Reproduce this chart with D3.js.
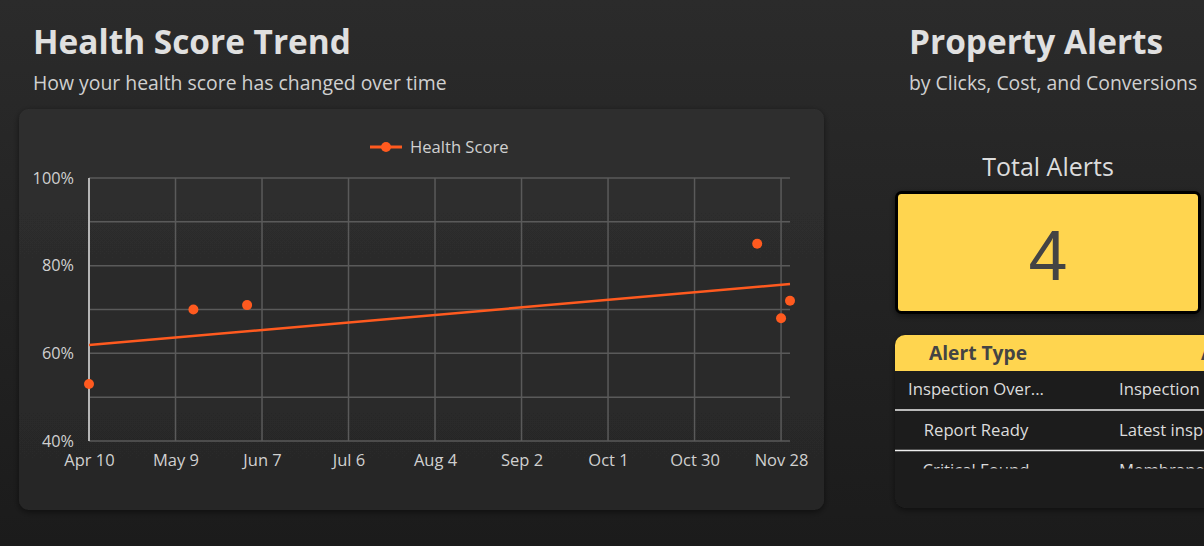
<!DOCTYPE html>
<html>
<head>
<meta charset="utf-8">
<script src="https://cdn.jsdelivr.net/npm/d3@7"></script>
<style>
  html, body { margin: 0; padding: 0; background: #1e1e1e; overflow: hidden; }
  svg { display: block; font-family: "Open Sans", sans-serif; }
</style>
</head>
<body>
<svg id="chart" width="1204" height="546"></svg>
<script>
// ---- data ----
const pointDates = ["2024-04-10", "2024-05-15", "2024-06-02", "2024-11-20", "2024-11-28", "2024-12-01"];
const pointScores = [53, 70, 71, 85, 68, 72];
const trendDates = ["2024-04-10", "2024-12-01"];
const trendScores = [61.9, 75.8];
const xTickDates = ["2024-04-10", "2024-05-09", "2024-06-07", "2024-07-06", "2024-08-04", "2024-09-02", "2024-10-01", "2024-10-30", "2024-11-28"];
const xTickLabels = ["Apr 10", "May 9", "Jun 7", "Jul 6", "Aug 4", "Sep 2", "Oct 1", "Oct 30", "Nov 28"];
const yGridValues = [40, 50, 60, 70, 80, 90, 100];
const yTickValues = [40, 60, 80, 100];
const seriesName = "Health Score";
const totalAlerts = 4;
const alertColumns = ["Alert Type", "Alert Message"];
const alertTypes = ["Inspection Over...", "Report Ready", "Critical Found"];
const alertMessages = ["Inspection overdue", "Latest inspection", "Membrane damage"];

const parse = d3.timeParse("%Y-%m-%d");
const svg = d3.select("#chart");
const defs = svg.append("defs");

// background gradient
const bg = defs.append("linearGradient").attr("id", "bg").attr("x1", 0).attr("y1", 0).attr("x2", 0).attr("y2", 1);
bg.append("stop").attr("offset", "0%").attr("stop-color", "#2b2b2b");
bg.append("stop").attr("offset", "100%").attr("stop-color", "#1b1b1b");
svg.append("rect").attr("width", 1204).attr("height", 546).attr("fill", "url(#bg)");

const cardG = defs.append("linearGradient").attr("id", "cardg").attr("x1", 0).attr("y1", 0).attr("x2", 0).attr("y2", 1);
cardG.append("stop").attr("offset", "0%").attr("stop-color", "#2f2f2f");
cardG.append("stop").attr("offset", "100%").attr("stop-color", "#272727");

const sh = defs.append("filter").attr("id", "shadow").attr("x", "-10%").attr("y", "-10%").attr("width", "120%").attr("height", "130%");
sh.append("feDropShadow").attr("dx", 0).attr("dy", 2).attr("stdDeviation", 3).attr("flood-color", "#000").attr("flood-opacity", 0.5);

// ---- left panel ----
svg.append("text").attr("x", 33).attr("y", 53.5).attr("fill", "#e0e0e0")
  .attr("font-size", 33.4).attr("font-weight", 700).text("Health Score Trend");
svg.append("text").attr("x", 33).attr("y", 90).attr("fill", "#d0d0d0")
  .attr("font-size", 19.4).text("How your health score has changed over time");

svg.append("rect").attr("x", 19).attr("y", 109).attr("width", 805).attr("height", 401)
  .attr("rx", 10).attr("fill", "url(#cardg)").attr("filter", "url(#shadow)");

const orange = "#ff5a1f";
const x = d3.scaleTime().domain([parse("2024-04-10"), parse("2024-12-01")]).range([89, 790]);
const y = d3.scaleLinear().domain([40, 100]).range([441, 178]);

// grid
const grid = svg.append("g");
grid.selectAll("line.h").data(yGridValues).join("line")
  .attr("x1", x.range()[0]).attr("x2", x.range()[1])
  .attr("y1", d => y(d)).attr("y2", d => y(d))
  .attr("stroke", "#5a5a5a").attr("stroke-width", 1.5);
grid.selectAll("line.v").data(xTickDates).join("line")
  .attr("x1", d => x(parse(d))).attr("x2", d => x(parse(d)))
  .attr("y1", y(100)).attr("y2", y(40))
  .attr("stroke", "#5a5a5a").attr("stroke-width", 1.5);
svg.append("line").attr("x1", x.range()[0]).attr("x2", x.range()[0])
  .attr("y1", y(100)).attr("y2", y(40)).attr("stroke", "#b5b5b5").attr("stroke-width", 2);

// axes
const xAxis = d3.axisBottom(x).tickValues(xTickDates.map(parse))
  .tickFormat((d, i) => xTickLabels[i]).tickSize(0).tickPadding(13);
const gx = svg.append("g").attr("transform", `translate(0,${y(40)})`).call(xAxis);
gx.select(".domain").remove();
gx.selectAll("text").attr("fill", "#d0d0d0").attr("font-size", 16.5).attr("font-family", "Open Sans");

const yAxis = d3.axisLeft(y).tickValues(yTickValues).tickFormat(d => d + "%").tickSize(0).tickPadding(15);
const gy = svg.append("g").attr("transform", `translate(${x.range()[0]},0)`).call(yAxis);
gy.select(".domain").remove();
gy.selectAll("text").attr("fill", "#d0d0d0").attr("font-size", 16.3).attr("font-family", "Open Sans");

// trend line
const trend = trendDates.map((d, i) => ({ date: parse(d), v: trendScores[i] }));
svg.append("path").datum(trend)
  .attr("d", d3.line().x(d => x(d.date)).y(d => y(d.v)))
  .attr("fill", "none").attr("stroke", orange).attr("stroke-width", 2.5);

// points
const pts = pointDates.map((d, i) => ({ date: parse(d), v: pointScores[i] }));
svg.append("g").selectAll("circle").data(pts).join("circle")
  .attr("cx", d => x(d.date)).attr("cy", d => y(d.v)).attr("r", 5).attr("fill", orange);

// legend
const lg = svg.append("g").attr("transform", "translate(370,147)");
lg.append("line").attr("x1", 0).attr("x2", 32).attr("stroke", orange).attr("stroke-width", 3);
lg.append("circle").attr("cx", 16).attr("r", 5).attr("fill", orange);
lg.append("text").attr("x", 40).attr("y", 6).attr("fill", "#d0d0d0").attr("font-size", 16.6).text(seriesName);

// ---- right panel ----
svg.append("text").attr("x", 909).attr("y", 53.5).attr("fill", "#e0e0e0")
  .attr("font-size", 33.4).attr("font-weight", 700).text("Property Alerts");
svg.append("text").attr("x", 909).attr("y", 90).attr("fill", "#d0d0d0")
  .attr("font-size", 19.4).text("by Clicks, Cost, and Conversions");

svg.append("text").attr("x", 1048).attr("y", 176).attr("text-anchor", "middle")
  .attr("fill", "#dcdcdc").attr("font-size", 25).text("Total Alerts");

svg.append("rect").attr("x", 896.5).attr("y", 192.5).attr("width", 303).attr("height", 120)
  .attr("rx", 5).attr("fill", "#ffd54f").attr("stroke", "#000").attr("stroke-width", 3)
  .attr("filter", "url(#shadow)");
svg.append("text").attr("x", 1048).attr("y", 280).attr("text-anchor", "middle")
  .attr("fill", "#444").attr("font-size", 70).attr("font-family", "Liberation Sans, Arial, sans-serif")
  .text(totalAlerts);

// table
const tbl = svg.append("g");
defs.append("clipPath").attr("id", "tclip").append("rect")
  .attr("x", 895).attr("y", 335).attr("width", 340).attr("height", 173).attr("rx", 10);
tbl.append("rect").attr("x", 895).attr("y", 335).attr("width", 340).attr("height", 173)
  .attr("rx", 10).attr("fill", "#1c1c1c").attr("filter", "url(#shadow)");
const tin = tbl.append("g").attr("clip-path", "url(#tclip)");
tin.append("rect").attr("x", 895).attr("y", 335).attr("width", 340).attr("height", 36).attr("fill", "#ffd54f");
tin.append("text").attr("x", 978).attr("y", 360).attr("text-anchor", "middle")
  .attr("fill", "#444").attr("font-size", 19.2).attr("font-weight", 700).text(alertColumns[0]);
tin.append("text").attr("x", 1201).attr("y", 360)
  .attr("fill", "#444").attr("font-size", 19.2).attr("font-weight", 700).text(alertColumns[1]);

defs.append("clipPath").attr("id", "rclip").append("rect")
  .attr("x", 895).attr("y", 371).attr("width", 340).attr("height", 97.5);
const rows = tin.append("g").attr("clip-path", "url(#rclip)");
const rowH = 40.5;
alertTypes.forEach((t, i) => {
  const by = 395.3 + i * rowH;
  rows.append("text").attr("x", 976).attr("y", by).attr("text-anchor", "middle")
    .attr("fill", "#dcdcdc").attr("font-size", 16.7).text(t);
  rows.append("text").attr("x", 1119).attr("y", by)
    .attr("fill", "#dcdcdc").attr("font-size", 16.7).text(alertMessages[i]);
  if (i < alertTypes.length - 1) {
    rows.append("line").attr("x1", 895).attr("x2", 1235)
      .attr("y1", 410 + i * rowH).attr("y2", 410 + i * rowH)
      .attr("stroke", "#eeeeee").attr("stroke-width", 1.5);
  }
});
</script>
</body>
</html>
